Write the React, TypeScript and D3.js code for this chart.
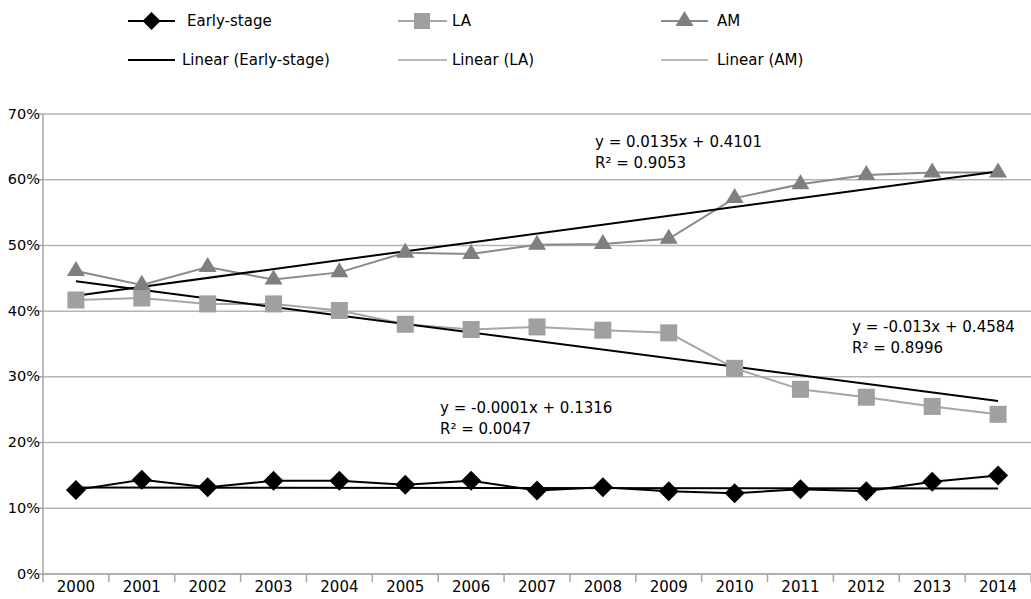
import React from 'react';
import { scaleBand, scaleLinear, line, range } from 'd3';

const years = ['2000', '2001', '2002', '2003', '2004', '2005', '2006', '2007', '2008', '2009', '2010', '2011', '2012', '2013', '2014'];
const earlyStage = [0.128, 0.1435, 0.132, 0.142, 0.142, 0.136, 0.142, 0.127, 0.132, 0.126, 0.123, 0.129, 0.126, 0.1405, 0.150];
const la = [0.417, 0.420, 0.411, 0.411, 0.401, 0.380, 0.372, 0.376, 0.371, 0.367, 0.313, 0.281, 0.269, 0.255, 0.243];
const am = [0.461, 0.440, 0.467, 0.448, 0.459, 0.489, 0.487, 0.501, 0.502, 0.510, 0.572, 0.593, 0.607, 0.611, 0.611];
const yTicks = [0, 0.1, 0.2, 0.3, 0.4, 0.5, 0.6, 0.7];

// trendline coefficients, as printed on the chart (x = 1..15)
const trendSlopes = [-0.0001, -0.013, 0.0135];
const trendIntercepts = [0.1316, 0.4584, 0.4101];
const trendLabels = [
  ['y = -0.0001x + 0.1316', 'R² = 0.0047'],
  ['y = -0.013x + 0.4584', 'R² = 0.8996'],
  ['y = 0.0135x + 0.4101', 'R² = 0.9053'],
];

const W = 1031;
const H = 599;
const left = 43;
const right = 1031;
const top = 114;
const bottom = 574;
const font = '"DejaVu Sans", Verdana, sans-serif';

const Diamond = ({ x, y, r = 10 }: { x: number; y: number; r?: number }) => (
  <path d={`M${x},${y - r}L${x + r},${y}L${x},${y + r}L${x - r},${y}Z`} fill="#000" />
);
const Square = ({ x, y, s = 17 }: { x: number; y: number; s?: number }) => (
  <rect x={x - s / 2} y={y - s / 2} width={s} height={s} fill="#a0a0a3" />
);
const Triangle = ({ x, y }: { x: number; y: number }) => (
  <path d={`M${x},${y - 10}L${x + 9},${y + 5}L${x - 9},${y + 5}Z`} fill="#7f7f7f" />
);

const App: React.FC = () => {
  const x = scaleBand().domain(years).range([left, right]);
  const y = scaleLinear().domain([0, 0.7]).range([bottom, top]);
  const cx = (d: string) => (x(d) as number) + x.bandwidth() / 2;

  const seriesLine = line<number>()
    .x((_, i) => cx(years[i]))
    .y(d => y(d));

  const trendLine = (k: number) => {
    const n = years.length;
    const pts = [1, n].map(t => [cx(years[t - 1]), y(trendSlopes[k] * t + trendIntercepts[k])] as [number, number]);
    return line()(pts) as string;
  };

  const labelPos = [
    { x: 440, y: 408 },
    { x: 852, y: 327 },
    { x: 595, y: 142 },
  ];

  const legendRow1 = 21;
  const legendRow2 = 60;

  return (
    <svg width={W} height={H} style={{ position: 'absolute', left: 0, top: 0 }} fontFamily={font}>
      <rect width={W} height={H} fill="#fff" />
      {/* gridlines */}
      {yTicks.map(t => (
        <line key={t} x1={left} x2={right} y1={y(t)} y2={y(t)} stroke="#b3b3b3" strokeWidth={1.5} />
      ))}
      {/* y axis */}
      <line x1={left} x2={left} y1={top} y2={bottom} stroke="#a6a6a6" strokeWidth={1.5} />
      {yTicks.map(t => (
        <g key={'yl' + t}>
          <line x1={left - 5} x2={left} y1={y(t)} y2={y(t)} stroke="#a6a6a6" strokeWidth={1.5} />
          <text x={left - 3} y={y(t)} dy="0.32em" textAnchor="end" fontSize={14.5} fill="#000">
            {`${Math.round(t * 100)}%`}
          </text>
        </g>
      ))}
      {/* x axis */}
      <line x1={left} x2={right} y1={bottom} y2={bottom} stroke="#a6a6a6" strokeWidth={1.5} />
      {range(years.length + 1).map(i => {
        const xx = left + i * x.bandwidth();
        return <line key={'xt' + i} x1={xx} x2={xx} y1={bottom} y2={bottom + 8} stroke="#a6a6a6" strokeWidth={1.5} />;
      })}
      {years.map(d => (
        <text key={d} x={cx(d)} y={592} textAnchor="middle" fontSize={15} fill="#000">
          {d}
        </text>
      ))}

      {/* series */}
      <path d={seriesLine(la) as string} fill="none" stroke="#a6a6a6" strokeWidth={2} />
      <path d={seriesLine(am) as string} fill="none" stroke="#8a8a8a" strokeWidth={2} />
      <path d={seriesLine(earlyStage) as string} fill="none" stroke="#000" strokeWidth={2} />

      {/* trendlines */}
      {trendSlopes.map((_, k) => (
        <path key={'tr' + k} d={trendLine(k)} fill="none" stroke="#000" strokeWidth={2} />
      ))}

      {/* markers */}
      {la.map((v, i) => <Square key={'la' + i} x={cx(years[i])} y={y(v)} />)}
      {am.map((v, i) => <Triangle key={'am' + i} x={cx(years[i])} y={y(v)} />)}
      {earlyStage.map((v, i) => <Diamond key={'es' + i} x={cx(years[i])} y={y(v)} />)}

      {/* trend labels */}
      {trendLabels.map((lines, k) => (
        <text key={'tl' + k} x={labelPos[k].x} y={labelPos[k].y} fontSize={15} fill="#000">
          <tspan x={labelPos[k].x} dy="0.35em">{lines[0]}</tspan>
          <tspan x={labelPos[k].x} dy="1.4em">{lines[1]}</tspan>
        </text>
      ))}

      {/* legend */}
      <g>
        <line x1={128} x2={175} y1={legendRow1} y2={legendRow1} stroke="#000" strokeWidth={2} />
        <Diamond x={151.5} y={legendRow1} r={9} />
        <text x={187} y={legendRow1} dy="0.35em" fontSize={15}>Early-stage</text>

        <line x1={398} x2={447} y1={legendRow1} y2={legendRow1} stroke="#a6a6a6" strokeWidth={2} />
        <Square x={422} y={legendRow1} s={16} />
        <text x={452} y={legendRow1} dy="0.35em" fontSize={15}>LA</text>

        <line x1={661} x2={708} y1={legendRow1} y2={legendRow1} stroke="#8a8a8a" strokeWidth={2} />
        <Triangle x={684.5} y={legendRow1} />
        <text x={717} y={legendRow1} dy="0.35em" fontSize={15}>AM</text>

        <line x1={128} x2={175} y1={legendRow2} y2={legendRow2} stroke="#000" strokeWidth={2} />
        <text x={182} y={legendRow2} dy="0.35em" fontSize={15}>Linear (Early-stage)</text>

        <line x1={398} x2={447} y1={legendRow2} y2={legendRow2} stroke="#b8b8b8" strokeWidth={2} />
        <text x={452} y={legendRow2} dy="0.35em" fontSize={15}>Linear (LA)</text>

        <line x1={661} x2={708} y1={legendRow2} y2={legendRow2} stroke="#b8b8b8" strokeWidth={2} />
        <text x={717} y={legendRow2} dy="0.35em" fontSize={15}>Linear (AM)</text>
      </g>
    </svg>
  );
};

export default App;
